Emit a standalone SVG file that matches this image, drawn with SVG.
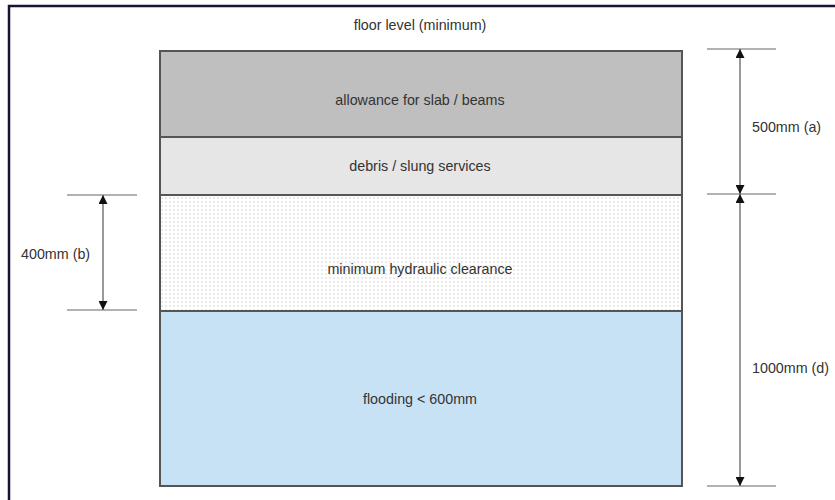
<svg xmlns="http://www.w3.org/2000/svg" width="835" height="500" viewBox="0 0 835 500">
<style>
text{font-family:"Liberation Sans",Arial,sans-serif;font-size:14.3px;fill:#333}
.band{stroke:#555;stroke-width:2}
.tick{stroke:#999;stroke-width:1.5;fill:none}
.dim{stroke:#777;stroke-width:1.5;fill:none}
</style>
<defs>
<pattern id="dots" width="4" height="4" patternUnits="userSpaceOnUse">
<rect width="4" height="4" fill="#fff"/>
<circle cx="2" cy="2" r="0.8" fill="#cfcfcf"/>
</pattern>
<marker id="ah" viewBox="0 0 10 10" refX="10" refY="5" markerWidth="9" markerHeight="9" markerUnits="userSpaceOnUse" orient="auto">
<path d="M0,0 L10,5 L0,10 z" fill="#111"/>
</marker>
</defs>
<rect width="835" height="500" fill="#fff"/>
<path d="M9,500 V6 H835" fill="none" stroke="#1a1433" stroke-width="2.5"/>
<g id="floor-label"><text x="420" y="30" text-anchor="middle">floor level (minimum)</text></g>
<g id="slab"><rect class="band" x="160" y="51" width="522" height="86" fill="#bfbfbf"/><text x="420" y="105" text-anchor="middle">allowance for slab / beams</text></g>
<g id="debris"><rect class="band" x="160" y="137" width="522" height="58" fill="#e6e6e6"/><text x="420" y="171" text-anchor="middle">debris / slung services</text></g>
<g id="hydraulic"><rect class="band" x="160" y="195" width="522" height="116" fill="url(#dots)"/><text x="420" y="274" text-anchor="middle">minimum hydraulic clearance</text></g>
<g id="flooding"><rect class="band" x="160" y="311" width="522" height="175" fill="#c8e2f5"/><text x="420" y="404" text-anchor="middle">flooding &lt; 600mm</text></g>
<g id="connectors">
<line class="tick" x1="707" y1="49" x2="776" y2="49"/>
<line class="tick" x1="707" y1="194" x2="776" y2="194"/>
<line class="tick" x1="707" y1="486" x2="776" y2="486"/>
<line class="dim" x1="740" y1="121" x2="740" y2="49" marker-end="url(#ah)"/>
<line class="dim" x1="740" y1="121" x2="740" y2="194" marker-end="url(#ah)"/>
<line class="dim" x1="740" y1="340" x2="740" y2="194" marker-end="url(#ah)"/>
<line class="dim" x1="740" y1="340" x2="740" y2="486" marker-end="url(#ah)"/>
<line class="tick" x1="67" y1="195" x2="137" y2="195"/>
<line class="tick" x1="67" y1="310" x2="137" y2="310"/>
<line class="dim" x1="103" y1="252" x2="103" y2="195" marker-end="url(#ah)"/>
<line class="dim" x1="103" y1="252" x2="103" y2="310" marker-end="url(#ah)"/>
</g>
<g id="dim-a"><text x="752" y="132">500mm (a)</text></g>
<g id="dim-d"><text x="752" y="373">1000mm (d)</text></g>
<g id="dim-b"><text x="21" y="259">400mm (b)</text></g>
</svg>
